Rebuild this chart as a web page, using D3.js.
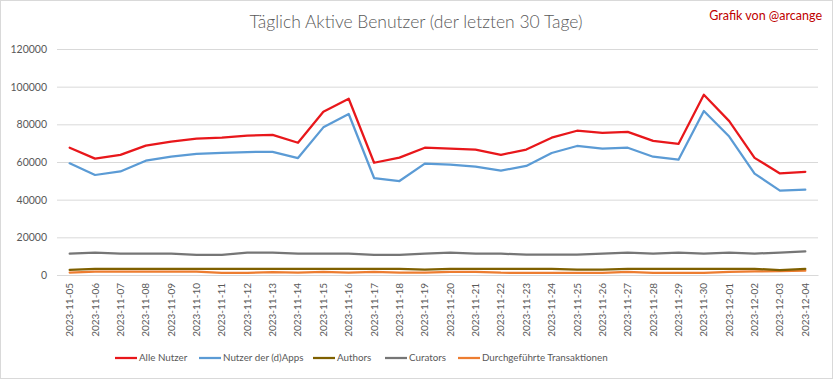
<!DOCTYPE html>
<html><head><meta charset="utf-8">
<script src="https://cdn.jsdelivr.net/npm/d3@7"></script>
<style>
html,body{margin:0;padding:0;background:#fff;}
svg{display:block;font-family:Lato,"Open Sans",sans-serif;}
</style></head>
<body>
<svg id="chart" width="833" height="379"></svg>
<script>
const dates = ["2023-11-05","2023-11-06","2023-11-07","2023-11-08","2023-11-09","2023-11-10","2023-11-11","2023-11-12","2023-11-13","2023-11-14","2023-11-15","2023-11-16","2023-11-17","2023-11-18","2023-11-19","2023-11-20","2023-11-21","2023-11-22","2023-11-23","2023-11-24","2023-11-25","2023-11-26","2023-11-27","2023-11-28","2023-11-29","2023-11-30","2023-12-01","2023-12-02","2023-12-03","2023-12-04"];
const alleNutzer = [67600,61800,63800,68700,70800,72400,72900,74000,74400,70200,86700,93600,59600,62300,67600,67100,66600,63800,66600,72900,76600,75500,76000,71200,69600,95700,81700,62200,53900,54800];
const dappsNutzer = [59300,53100,55000,60700,62800,64300,64800,65300,65400,62100,78400,85500,51500,49900,59100,58600,57500,55400,57900,64800,68500,67100,67600,62800,61200,87100,73500,53800,44800,45300];
const authors = [2700,3300,3300,3300,3300,3300,3300,3300,3300,3300,3300,3300,3300,3300,2900,3300,3300,3300,3300,3300,2900,2900,3300,3300,3300,3300,3300,3300,2600,3200];
const curators = [11300,11900,11300,11300,11300,10700,10700,11900,11900,11300,11300,11300,10700,10700,11300,11900,11300,11300,10800,10800,10800,11300,11900,11300,11900,11400,11900,11400,11900,12500];
const transaktionen = [1300,1800,1800,1800,1800,1800,1100,1100,1500,1200,1600,1200,1600,1200,1200,1600,1600,1200,1100,1100,1100,1100,1600,1100,1100,1100,1600,1900,2000,2300];
const yTicks = [0,20000,40000,60000,80000,100000,120000];
const seriesNames = ["Alle Nutzer","Nutzer der (d)Apps","Authors","Curators","Durchgeführte Transaktionen"];
const seriesColors = ["#e8171b","#5b9bd5","#7f6000","#767676","#ed7d31"];

const svg = d3.select("#chart");
const W = 833, H = 379;
svg.append("rect").attr("x",0.5).attr("y",0.5).attr("width",W-1).attr("height",H-1)
  .attr("fill","#fff").attr("stroke","#d9d9d9");

const mLeft = 57, mRight = 818, mTop = 49, mBottom = 275;
const x = d3.scaleBand().domain(dates).range([mLeft,mRight]);
const y = d3.scaleLinear().domain([0,120000]).range([mBottom,mTop]);

// title
svg.append("text").attr("x",416).attr("y",28).attr("text-anchor","middle")
  .attr("font-size",17.5).attr("font-weight",300).attr("fill","#595959").text("Täglich Aktive Benutzer (der letzten 30 Tage)");
svg.append("text").attr("x",822).attr("y",20).attr("text-anchor","end")
  .attr("font-size",12.5).attr("fill","#c00000").text("Grafik von @arcange");

// grid
const yAxis = d3.axisLeft(y).tickValues(yTicks).tickSize(-(mRight-mLeft)).tickPadding(10).tickFormat(d3.format("d"));
const gy = svg.append("g").attr("transform",`translate(${mLeft},0)`).call(yAxis);
gy.select(".domain").remove();
gy.selectAll(".tick line").attr("stroke","#d9d9d9").attr("stroke-width",1);
gy.selectAll(".tick text").attr("fill","#595959").attr("font-size",10.5).attr("font-family","Lato,sans-serif");

// x axis
const xAxis = d3.axisBottom(x).tickSize(0).tickPadding(0);
const gx = svg.append("g").attr("transform",`translate(0,${mBottom})`).call(xAxis);
gx.select(".domain").attr("stroke","#d9d9d9");
gx.selectAll(".tick text")
  .attr("transform","rotate(-90)")
  .attr("text-anchor","end")
  .attr("x",-8).attr("y",0).attr("dy","0.35em")
  .attr("fill","#595959").attr("font-size",10).attr("font-family","Lato,sans-serif");

const allSeries = [alleNutzer,dappsNutzer,authors,curators,transaktionen];
const line = d3.line().x((d,i)=>x(dates[i])+x.bandwidth()/2).y(d=>y(d));
[4,3,2,1,0].forEach(k=>{
  svg.append("path").datum(allSeries[k]).attr("d",line)
    .attr("fill","none").attr("stroke",seriesColors[k]).attr("stroke-width",2.25)
    .attr("stroke-linejoin","round").attr("stroke-linecap","round");
});

// legend
const legX = [115,199,313,385,458];
const lg = svg.append("g");
seriesNames.forEach((n,i)=>{
  lg.append("line").attr("x1",legX[i]).attr("x2",legX[i]+22).attr("y1",358).attr("y2",358)
    .attr("stroke",seriesColors[i]).attr("stroke-width",2.25);
  lg.append("text").attr("x",legX[i]+24).attr("y",358).attr("dy","0.35em")
    .attr("font-size",9.8).attr("fill","#595959").text(n);
});
</script>
</body></html>
